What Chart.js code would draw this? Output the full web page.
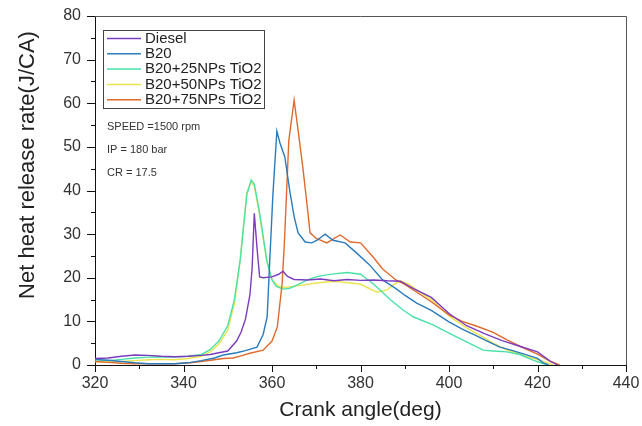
<!DOCTYPE html>
<html><head><meta charset="utf-8">
<script src="https://cdn.jsdelivr.net/npm/chart.js@4/dist/chart.umd.min.js"></script>
<style>html,body{margin:0;padding:0;background:#fff}canvas{display:block}</style>
</head><body>
<canvas id="c" width="642" height="426"></canvas>
<script>
const seriesLabels = ['Diesel', 'B20', 'B20+25NPs TiO2', 'B20+50NPs TiO2', 'B20+75NPs TiO2'];
const seriesColors = ['#7b3cc0', '#2b7bbd', '#48e2a8', '#ece44e', '#e06a2c'];

const xTicks = [320, 340, 360, 380, 400, 420, 440];
const yTicks = [0, 10, 20, 30, 40, 50, 60, 70, 80];

const dieselX = [320,323,326,329,332,335,338,341,344,346,348,350,352,353,354,355,355.5,356,356.6,357.2,358,360,361.5,362.5,363.5,365,368,371,374,377,380,383,386,389,392,396,400,404,408,412,416,420,423,424.5];
const dieselY = [1.5,1.6,2,2.3,2.2,2,1.9,2,2.2,2.4,2.8,3.2,5.5,7.5,10.5,16,22,34.8,27,20.2,20,20.2,20.8,21.5,20.3,19.6,19.5,19.7,19.3,19.6,19.4,19.5,19.3,19.2,17.5,15.5,11.8,9,7.2,5.6,4.3,3,0.8,0];

const b20X = [320,323,326,329,332,335,338,341,344,347,349,352,354,356.6,358,358.9,359.5,360.2,361.1,361.8,362.9,364,365,365.9,367.5,369,370.2,372,373.8,376.5,379.1,382,385,388,390,392.7,396,400,403,406,409,411.5,414,417,420,421.3,422.5];
const b20Y = [1.3,1.1,0.8,0.5,0.3,0.3,0.3,0.5,1,1.6,2.3,2.8,3.3,4.1,7,11,24,39,53.6,50.9,47.7,40,34,30.3,28.2,28,28.6,30,28.6,28,25.7,23,19.5,17.5,16,14.2,12.5,9.9,8.2,6.8,5.3,4.1,3.4,2.5,1.5,0.5,0];

const np25X = [320,323,326,329,332,335,338,341,344,346,348,350,351.5,352.8,354.3,355.3,356,357,357.7,358.8,360,361,362.5,364,366,368,370,372,374,377,380,383,386.7,389.6,392,396.4,399,401.8,405,407.7,410,413.1,416,419,421,422.5];
const np25Y = [1.2,1,1.3,1.6,1.8,1.9,1.8,2,2.4,3.5,5.5,9,15,24,39,42.4,41.5,36,31.6,24,19.5,18,17.4,17.6,18.5,19.5,20.2,20.6,20.9,21.2,20.8,18.5,15,12.6,11,9.2,7.8,6.4,4.8,3.4,3.2,3,2.4,1.1,0.4,0];

const np50X = [320,323,326,329,332,335,338,341,344,346,348,350,351.5,352.8,354.3,355.3,356,357,357.7,358.8,360,361.5,363,366,370,374,377.7,380,383.7,386,387.3,389,391,393,396,398.6,401,404,407,410,413,416,419,422,423.5];
const np50Y = [0.8,0.7,0.8,1,1.2,1.3,1.2,1.5,2,3,4.8,8,14,24,39.5,42,41,35.5,31,24,19.5,18,17.8,18.2,18.8,19.2,18.8,18.5,16.7,17.2,18.3,19.3,18.5,17,15,12.5,10.5,8.5,6.8,5,3.5,2.5,1.5,0.6,0];

const np75X = [320,323,326,329,332,335,338,341.5,344,347,349,351.2,353,355,358,360,361.2,362.3,362.8,363.8,365,366,367,368,368.6,370,372.4,373.5,375.4,377.7,380,382.8,385,388,390,393,396,400,403,406,410,413,416,420,423,425];
const np75Y = [0.8,0.6,0.4,0.3,0.3,0.3,0.3,0.5,0.8,1.2,1.5,1.6,2.1,2.7,3.4,5.5,8.7,18.8,28,51.5,60.7,53,45,36,30.3,29,28,28.7,29.8,28.2,28,24.8,22,19.5,18.5,16.5,14.5,11.5,10,9,7.5,5.8,4.3,2.5,0.8,0];

const notes = ['SPEED =1500 rpm', 'IP = 180 bar', 'CR = 17.5'];
const yTitle = 'Net heat release rate(J/CA)';
const xTitle = 'Crank angle(deg)';

const allX = [dieselX, b20X, np25X, np50X, np75X];
const allY = [dieselY, b20Y, np25Y, np50Y, np75Y];
const FONT = 'Liberation Sans, Arial, sans-serif';

const datasets = seriesLabels.map((lab, i) => ({
  label: lab,
  data: allX[i].map((x, j) => ({x: x, y: allY[i][j]})),
  borderColor: seriesColors[i],
  backgroundColor: seriesColors[i],
  borderWidth: 1.4,
  pointRadius: 0,
  tension: 0,
  fill: false
}));
datasets.forEach((d, i) => d.order = [0, 1, 3, 4, 2][i]);

const decor = {
  id: 'decor',
  afterDraw(chart) {
    const ctx = chart.ctx;
    const a = chart.chartArea;
    const xs = chart.scales.x, ys = chart.scales.y;
    ctx.save();
    ctx.strokeStyle = '#555';
    ctx.lineWidth = 1;
    ctx.beginPath();
    ctx.moveTo(a.left, a.top + 0.5); ctx.lineTo(a.right + 0.5, a.top + 0.5); ctx.lineTo(a.right + 0.5, a.bottom);
    ctx.stroke();
    ctx.strokeStyle = '#111';
    ctx.beginPath();
    for (let v = 320; v <= 440; v += 10) {
      const p = Math.round(xs.getPixelForValue(v)) + 0.5;
      const len = v % 20 === 0 ? 7 : 4;
      ctx.moveTo(p, a.bottom); ctx.lineTo(p, a.bottom + len);
    }
    for (let v = 0; v <= 80; v += 5) {
      const p = Math.round(ys.getPixelForValue(v)) + 0.5;
      const len = v % 10 === 0 ? 8 : 4;
      ctx.moveTo(a.left, p); ctx.lineTo(a.left - len, p);
    }
    ctx.stroke();
    ctx.fillStyle = '#222';
    ctx.font = '22px ' + FONT;
    ctx.textAlign = 'center';
    ctx.textBaseline = 'middle';
    ctx.translate(28, 165);
    ctx.rotate(-Math.PI / 2);
    ctx.fillText(yTitle, 0, 0);
    ctx.restore();

    ctx.save();
    ctx.strokeStyle = '#444';
    ctx.lineWidth = 1;
    ctx.strokeRect(103.5, 30.5, 161, 78);
    ctx.font = '15px ' + FONT;
    ctx.textBaseline = 'middle';
    ctx.textAlign = 'left';
    seriesLabels.forEach((lab, i) => {
      const y = 38.5 + i * 15.3;
      ctx.strokeStyle = seriesColors[i];
      ctx.lineWidth = 1.5;
      ctx.beginPath(); ctx.moveTo(107, y); ctx.lineTo(141, y); ctx.stroke();
      ctx.fillStyle = '#222';
      ctx.fillText(lab, 145, y);
    });
    ctx.font = '11px ' + FONT;
    ctx.fillStyle = '#333';
    notes.forEach((t, i) => ctx.fillText(t, 107, 127 + i * 23));
    ctx.restore();
  }
};

new Chart(document.getElementById('c'), {
  type: 'line',
  data: { datasets },
  plugins: [decor],
  options: {
    responsive: false,
    animation: false,
    devicePixelRatio: 1,
    layout: { padding: { top: 16, right: 16, left: 0, bottom: 0 } },
    plugins: { legend: { display: false }, tooltip: { enabled: false } },
    scales: {
      x: {
        type: 'linear', min: 320, max: 440,
        afterFit(s) { s.height = 61; s.paddingLeft = 0; s.paddingRight = 0; },
        afterBuildTicks(s) { s.ticks = xTicks.map(v => ({ value: v })); },
        ticks: { font: { size: 16, family: FONT }, color: '#333', padding: 9, maxRotation: 0 },
        grid: { display: false, drawTicks: false },
        border: { display: true, color: '#111', width: 1 },
        title: { display: true, text: xTitle, color: '#222', font: { size: 21, family: FONT }, padding: { top: 0, bottom: 3 } }
      },
      y: {
        type: 'linear', min: 0, max: 80,
        afterFit(s) { s.width = 95; s.paddingTop = 0; s.paddingBottom = 0; },
        afterBuildTicks(s) { s.ticks = yTicks.map(v => ({ value: v })); },
        ticks: { font: { size: 16, family: FONT }, color: '#333', padding: 14 },
        grid: { display: false, drawTicks: false },
        border: { display: true, color: '#111', width: 1 }
      }
    }
  }
});
</script>
</body></html>
